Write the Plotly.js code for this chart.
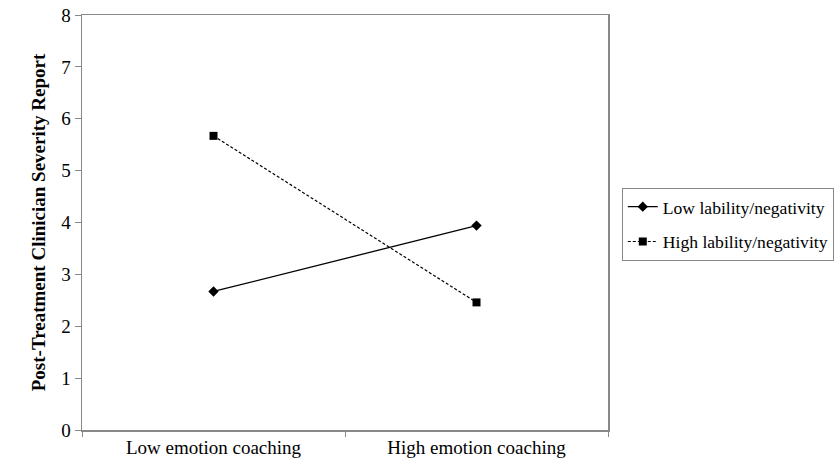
<!DOCTYPE html>
<html>
<head>
<meta charset="utf-8">
<script src="https://cdn.plot.ly/plotly-3.0.1.min.js"></script>
<style>html,body{margin:0;padding:0;background:#fff;}#chart{width:838px;height:470px;}</style>
</head>
<body>
<div id="chart"></div>
<script>
const categories = ["Low emotion coaching", "High emotion coaching"];
const lowLability = [2.67, 3.94];
const highLability = [5.67, 2.46];
const yTicks = [0, 1, 2, 3, 4, 5, 6, 7, 8];
const seriesNames = ["Low lability/negativity", "High lability/negativity"];

const fam = "Liberation Serif, Times New Roman, serif";
const tickFont = {family: fam, size: 19, color: "#000"};
const legFont = {family: fam, size: 17.6, color: "#000"};

const traces = [
  {x: categories, y: lowLability, name: seriesNames[0], legendgroup: "a", type: "scatter", mode: "lines+markers",
   line: {color: "#000", width: 1.3}, marker: {symbol: "diamond", size: 8, color: "#000"}},
  {x: categories, y: highLability, name: seriesNames[1], legendgroup: "b", type: "scatter", mode: "lines+markers",
   line: {color: "#000", width: 1.2, dash: "3px,2px"}, marker: {symbol: "square", size: 8, color: "#000"}}
];

const layout = {
  width: 838, height: 470,
  margin: {l: 82, r: 230, t: 15, b: 40},
  paper_bgcolor: "#fff", plot_bgcolor: "#fff",
  font: tickFont,
  showlegend: true,
  legend: {xref: "container", yref: "container", x: 0.742, y: 0.523, xanchor: "left", yanchor: "middle",
    traceorder: "grouped", tracegroupgap: 9,
    itemwidth: 30, bordercolor: "#888", borderwidth: 1, font: legFont, bgcolor: "#fff"},
  xaxis: {type: "category", range: [-0.5, 1.5], tickson: "boundaries",
    ticks: "outside", ticklen: 5, tickcolor: "#888", showgrid: false,
    showline: true, linecolor: "#888", linewidth: 1.5, mirror: true, zeroline: false,
    tickfont: tickFont, fixedrange: true},
  yaxis: {range: [0, 8], tickvals: yTicks, ticks: "outside", ticklen: 6, tickcolor: "#888",
    showgrid: false, showline: true, linecolor: "#888", linewidth: 1.5, mirror: true, zeroline: false,
    tickfont: tickFont,
    title: {text: "<b>Post-Treatment Clinician Severity Report</b>", font: tickFont, standoff: 10}}
};

Plotly.newPlot("chart", traces, layout, {displayModeBar: false, staticPlot: true});
</script>
</body>
</html>
